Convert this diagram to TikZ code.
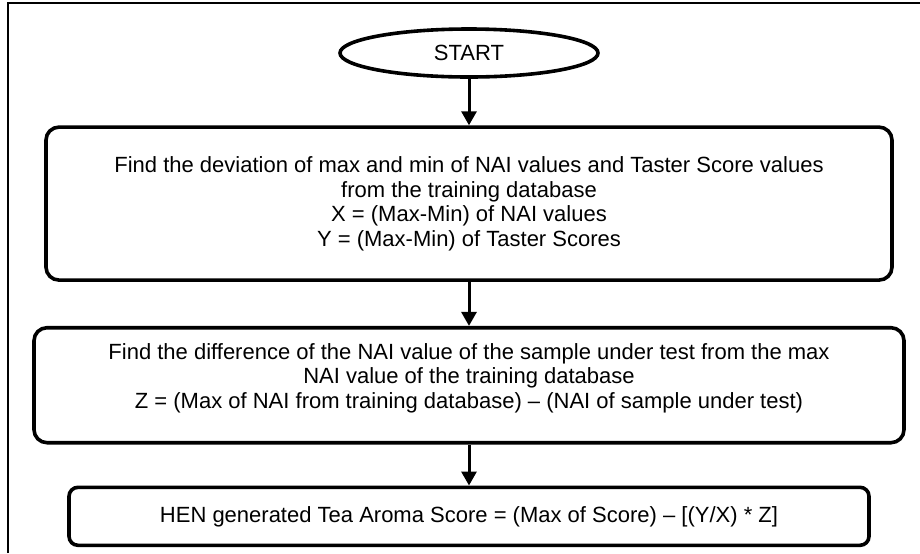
\documentclass[tikz,border=0pt]{standalone}
\usepackage{fontspec}
\setmainfont{Liberation Sans}
\usetikzlibrary{shapes, arrows.meta, positioning, calc}

\begin{document}
\begin{tikzpicture}[
    node distance=22pt,
    every node/.style={font=\fontsize{11}{12.25}\selectfont},
    startnode/.style={ellipse, draw, line width=1.8pt, minimum width=129pt, minimum height=24pt, inner sep=0pt},
    box/.style={rectangle, draw, line width=1.8pt, rounded corners=6.5pt, align=center, inner sep=0pt},
    flow/.style={-{Triangle[length=7pt, width=7.5pt]}, line width=1.5pt}
]

\useasboundingbox (0,0) rectangle (460pt,-276.5pt);

% Frame
\draw[line width=1.2pt] (4pt,-276.5pt) -- (4pt,-1.5pt) -- (460pt,-1.5pt);

% Start
\node[startnode] (start) at (234.5pt,-26.5pt) {START};

% Deviation of NAI values and taster scores
\node[box, below=23.25pt of start, minimum width=423pt, minimum height=76.5pt] (deviation) {Find the deviation of max and min of NAI values and Taster Score values\\from the training database\\X = (Max-Min) of NAI values\\Y = (Max-Min) of Taster Scores};

% Difference from max NAI
\node[box, below=of deviation, minimum width=435pt, minimum height=57.5pt] (difference) {Find the difference of the NAI value of the sample under test from the max\\NAI value of the training database\\Z = (Max of NAI from training database) – (NAI of sample under test)\rule[-9.3pt]{0pt}{9.3pt}};

% Score
\node[box, below=20.5pt of difference, rounded corners=4.5pt, minimum width=400pt, minimum height=29pt] (score) {HEN generated Tea Aroma Score = (Max of Score) – [(Y/X) * Z]};

% Arrows
\draw[flow] (start) -- (deviation);
\draw[flow] (deviation) -- (difference);
\draw[flow] (difference) -- (score);

\end{tikzpicture}
\end{document}
